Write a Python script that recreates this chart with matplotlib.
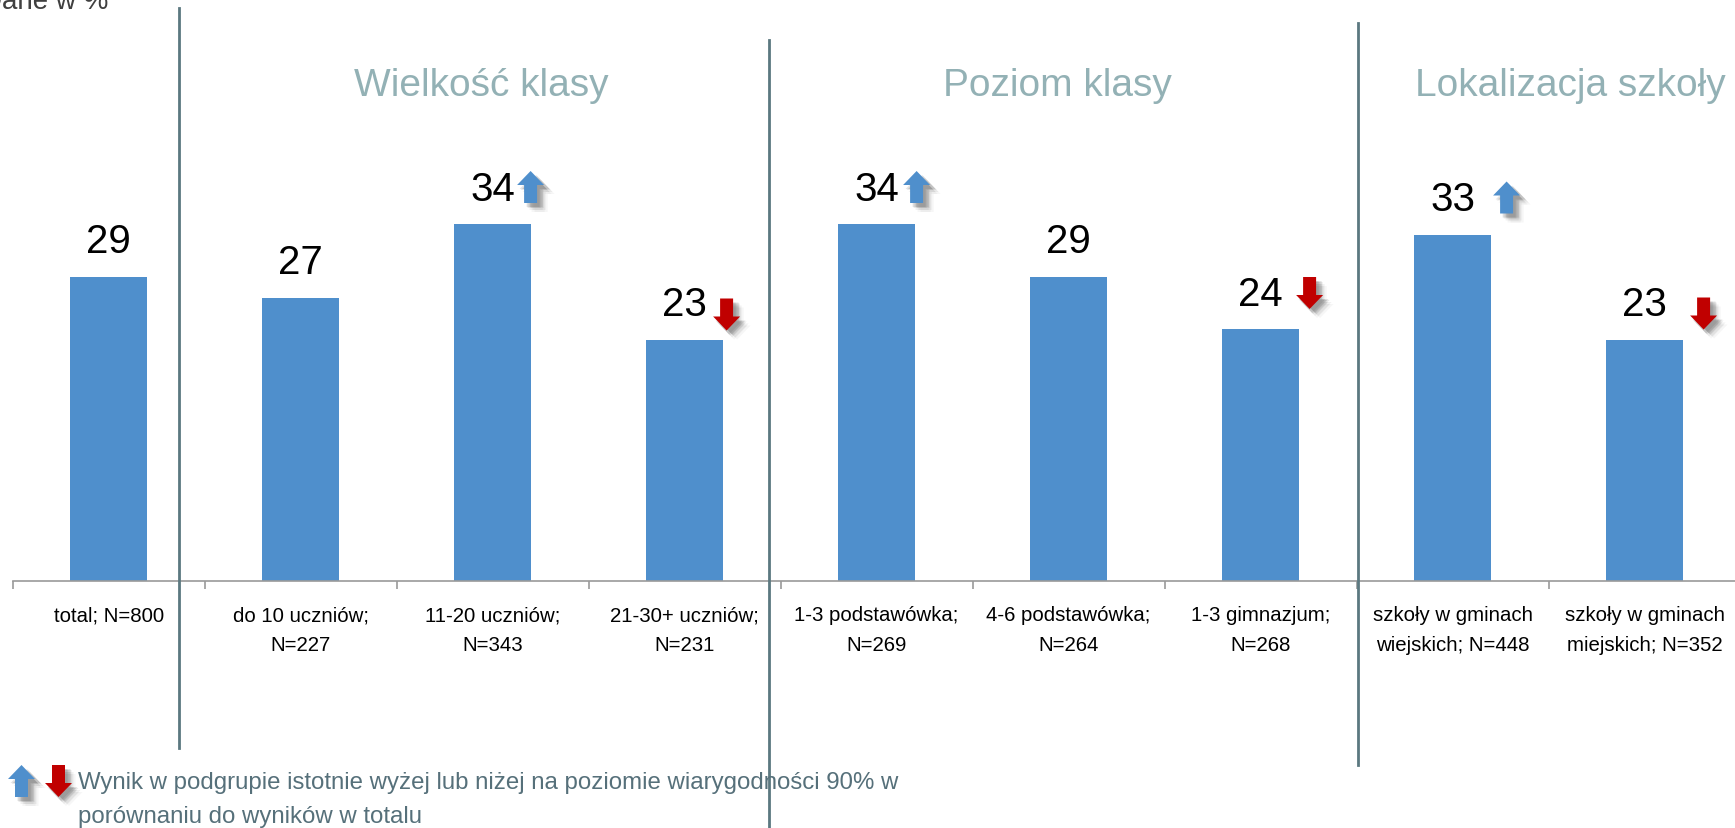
import matplotlib

matplotlib.use("Agg")
import matplotlib.pyplot as plt
import matplotlib.transforms as mtransforms
from matplotlib.lines import Line2D
from matplotlib.patches import Polygon

# the original uses Arial Narrow; Liberation Sans sized down to keep text widths
plt.rcParams["font.family"] = ["Liberation Sans Narrow", "Liberation Sans", "DejaVu Sans"]

categories = [
    "total; N=800",
    "do 10 uczniów;\nN=227",
    "11-20 uczniów;\nN=343",
    "21-30+ uczniów;\nN=231",
    "1-3 podstawówka;\nN=269",
    "4-6 podstawówka;\nN=264",
    "1-3 gimnazjum;\nN=268",
    "szkoły w gminach\nwiejskich; N=448",
    "szkoły w gminach\nmiejskich; N=352",
]
values = [29, 27, 34, 23, 34, 29, 24, 33, 23]
# +1 significantly higher, -1 significantly lower, 0 no difference
significance = [0, 0, 1, -1, 1, 0, -1, 1, -1]
groups = ["Wielkość klasy", "Poziom klasy", "Lokalizacja szkoły"]
y_label = "Dane w %"
footnote = ("Wynik w podgrupie istotnie wyżej lub niżej na poziomie wiarygodności 90% w\n"
            "porównaniu do wyników w totalu")

BAR = "#4F8FCC"
RED = "#C00000"
SEP = "#5B7880"
TITLE = "#93B1B5"
NOTE = "#56707A"
AXIS = "#9A9A9A"

W, H = 1735, 829
fig = plt.figure(figsize=(W / 100, H / 100), dpi=100)
# axes is wider than the canvas: the original chart is cropped on the right
ax = fig.add_axes([12.6 / W, (H - 582) / H, 1728 / W, 420 / H])
x = list(range(len(values)))
ax.bar(x, values, width=0.4, color=BAR, zorder=2)
ax.set_xlim(-0.5, len(values) - 0.5)
ax.set_ylim(0, 40)
for s in ("top", "right", "left"):
    ax.spines[s].set_visible(False)
ax.spines["bottom"].set_color(AXIS)
ax.spines["bottom"].set_linewidth(1.2)
ax.set_yticks([])
ax.set_xticks(x)
ax.set_xticklabels(categories, fontsize=14.7, linespacing=1.72)
ax.tick_params(axis="x", which="major", length=0, pad=17.5)
ax.set_xticks([i - 0.5 for i in range(len(values) + 1)], minor=True)
ax.tick_params(axis="x", which="minor", length=6, width=1.2, color=AXIS)

# arrow offsets (px) relative to bar centre / bar top
arrow_dx = [0, 0, 38, 42, 40, 0, 49, 54, 59]
arrow_dy = [0, 0, 37, 25, 37, 0, 36, 37, 26]


def arrow_verts(cx, cy, up):
    # px -> inches, arrow 27 wide, 32 tall
    hw, sw, hh, h = 13.5, 6.5, 14, 32
    top = cy + h / 2
    bot = cy - h / 2
    if up:
        pts = [(cx, top), (cx + hw, top - hh), (cx + sw, top - hh), (cx + sw, bot),
               (cx - sw, bot), (cx - sw, top - hh), (cx - hw, top - hh)]
    else:
        pts = [(cx, bot), (cx + hw, bot + hh), (cx + sw, bot + hh), (cx + sw, top),
               (cx - sw, top), (cx - sw, bot + hh), (cx - hw, bot + hh)]
    return [(px / 100, py / 100) for px, py in pts]


def draw_arrow(trans, cx, cy, up, zorder=5):
    color = BAR if up else RED
    on_fig = trans is fig.dpi_scale_trans
    for k, a in ((9, 0.05), (7, 0.08), (5, 0.12), (4, 0.15)):
        for ox in (-1.5, 1.5):
            shadow = Polygon(arrow_verts(cx + k + ox, cy - k, up), closed=True,
                             facecolor="#555555", edgecolor="none", alpha=a,
                             transform=trans, zorder=zorder - 1, clip_on=False)
            fig.add_artist(shadow) if on_fig else ax.add_patch(shadow)
    p = Polygon(arrow_verts(cx, cy, up), closed=True, facecolor=color,
                edgecolor="none", transform=trans, zorder=zorder, clip_on=False)
    fig.add_artist(p) if on_fig else ax.add_patch(p)


for i, v in enumerate(values):
    ax.annotate(f"{v}", (i, v), xytext=(0, 17.5), textcoords="offset points",
                ha="center", va="baseline", fontsize=29, color="black")
    if significance[i]:
        trans = fig.dpi_scale_trans + mtransforms.ScaledTranslation(i, v, ax.transData)
        draw_arrow(trans, arrow_dx[i], arrow_dy[i], significance[i] > 0)

# group separators (figure px, measured from top)
for sx, y0, y1 in ((179, 9, 749), (769, 41, 829), (1358, 24, 766)):
    fig.add_artist(Line2D([sx / W, sx / W], [1 - y0 / H, 1 - y1 / H],
                          color=SEP, linewidth=2, transform=fig.transFigure))

for gx, name in zip((481, 1057, 1570), groups):
    fig.text(gx / W, 1 - 96 / H, name, ha="center", va="baseline",
             fontsize=28, color=TITLE)

# cropped in the original: only "ane w %" is visible
fig.text(108 / W, 1 - 9 / H, y_label, ha="right", va="baseline", fontsize=20, color="#404040")

fig.text(78 / W, 1 - 823 / H, footnote, ha="left", va="baseline", fontsize=17.3,
         color=NOTE, linespacing=1.7)
draw_arrow(fig.dpi_scale_trans, 21.5, H - 782, True)
draw_arrow(fig.dpi_scale_trans, 58.5, H - 782, False)

fig.savefig("out.png", dpi=100)
